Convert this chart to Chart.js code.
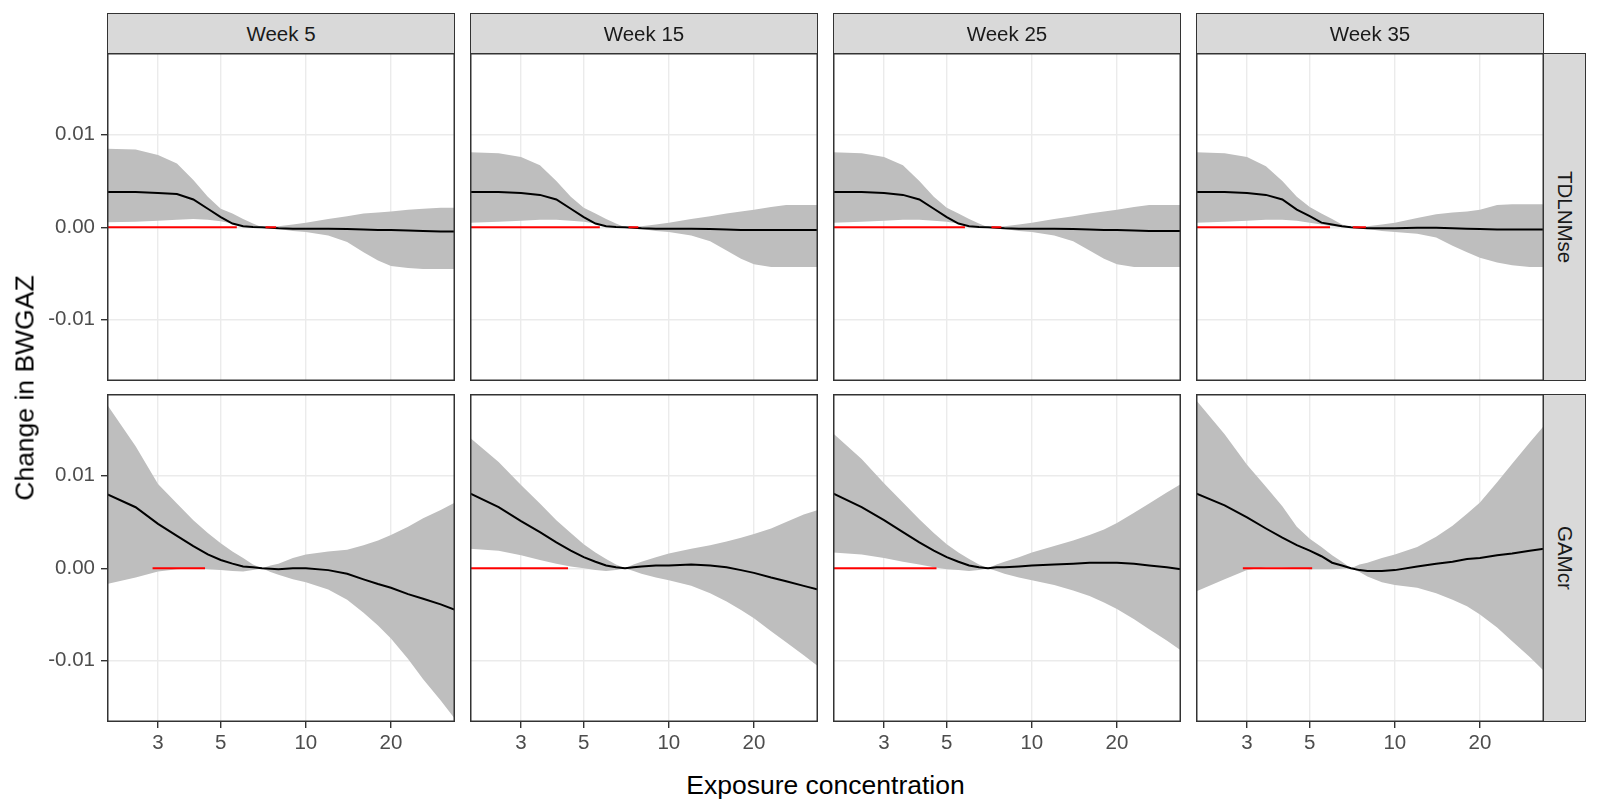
<!DOCTYPE html>
<html>
<head>
<meta charset="utf-8">
<script src="https://cdn.jsdelivr.net/npm/chart.js@4.4.0/dist/chart.umd.min.js"></script>
<style>
  body { margin: 0; background: #fff; }
  #wrap { position: relative; width: 1600px; height: 800px; font-family: "Liberation Sans", Arial, sans-serif; }
  canvas { position: absolute; }
  .strip { position: absolute; box-sizing: border-box; background: #D9D9D9; border: 1.5px solid #333333;
           color: #1A1A1A; font-size: 20.5px; display: flex; align-items: center; justify-content: center; }
  .vstrip { writing-mode: vertical-rl; }
  .title { position: absolute; color: #000; font-size: 26.5px; white-space: nowrap; }
</style>
</head>
<body>
<div id="wrap"></div>
<script>
// exposure grid shared by all panels
const xs = [1.98, 2.5, 3, 3.5, 4, 4.5, 5, 5.5, 6, 6.5, 7, 7.5, 8, 9, 10, 12, 14, 16, 18, 20, 23, 26, 30, 33.7];

const weeks = ['Week 5', 'Week 15', 'Week 25', 'Week 35'];
const models = ['TDLNMse', 'GAMcr'];

const xMajor = [3, 5, 10, 20];
const xMinor = [2.32, 3.87, 7.07, 14.14, 25.8, 33.3];
const yMajor = [-0.01, 0, 0.01];
const yMajorLabels = ['-0.01', '0.00', '0.01'];
const yMinor = [-0.015, -0.005, 0.005, 0.015];

// TDLNMse
const w5_tdlnm_mid = [0.0038, 0.0038, 0.0037, 0.0036, 0.003, 0.002, 0.0011, 0.0004, 0.0001, 0.00002, 0, -0.00005, -0.0001, -0.00015, -0.00015, -0.00015, -0.0002, -0.00025, -0.0003, -0.0003, -0.00035, -0.0004, -0.00045, -0.00045];
const w5_tdlnm_lo = [0.00055, 0.0006, 0.0007, 0.0008, 0.0009, 0.0008, 0.00065, 0.0004, 0.00015, 0.00003, 0, -0.0001, -0.0002, -0.0004, -0.0005, -0.0009, -0.0016, -0.0027, -0.0036, -0.0042, -0.0044, -0.0045, -0.0045, -0.0045];
const w5_tdlnm_hi = [0.0085, 0.0084, 0.0078, 0.0069, 0.0051, 0.0033, 0.002, 0.0015, 0.0009, 0.0004, 0, 0.00005, 0.0001, 0.0003, 0.0005, 0.0009, 0.0012, 0.0015, 0.0016, 0.0017, 0.0019, 0.002, 0.0021, 0.0021];

const w15_tdlnm_mid = [0.0038, 0.0038, 0.0037, 0.0035, 0.003, 0.002, 0.0011, 0.0004, 0.0001, 0.00002, 0, -0.00005, -0.0001, -0.00015, -0.00015, -0.00015, -0.0002, -0.00025, -0.0003, -0.0003, -0.0003, -0.0003, -0.0003, -0.0003];
const w15_tdlnm_lo = [0.0005, 0.0006, 0.0007, 0.0008, 0.0008, 0.0007, 0.0006, 0.0004, 0.00015, 0.00003, 0, -0.0001, -0.0002, -0.0004, -0.0005, -0.0009, -0.0015, -0.0025, -0.0034, -0.004, -0.0043, -0.0043, -0.0043, -0.0043];
const w15_tdlnm_hi = [0.0081, 0.008, 0.0076, 0.0067, 0.005, 0.0033, 0.0021, 0.0015, 0.0009, 0.0004, 0, 0.00005, 0.0001, 0.0003, 0.0005, 0.0009, 0.0012, 0.0015, 0.0017, 0.0019, 0.0022, 0.0024, 0.0024, 0.0024];

const w25_tdlnm_mid = [0.0038, 0.0038, 0.0037, 0.0035, 0.003, 0.002, 0.0011, 0.0004, 0.0001, 0.00002, 0, -0.00005, -0.0001, -0.00015, -0.00015, -0.00015, -0.0002, -0.00025, -0.0003, -0.0003, -0.00035, -0.0004, -0.0004, -0.0004];
const w25_tdlnm_lo = [0.0005, 0.0006, 0.0007, 0.0008, 0.0008, 0.0007, 0.0006, 0.0004, 0.00015, 0.00003, 0, -0.0001, -0.0002, -0.0004, -0.0005, -0.0009, -0.0015, -0.0025, -0.0034, -0.004, -0.0043, -0.0043, -0.0043, -0.0043];
const w25_tdlnm_hi = [0.0081, 0.008, 0.0076, 0.0067, 0.005, 0.0033, 0.0021, 0.0015, 0.0009, 0.0004, 0, 0.00005, 0.0001, 0.0003, 0.0005, 0.0009, 0.0012, 0.0015, 0.0017, 0.0019, 0.0022, 0.0024, 0.0024, 0.0024];

const w35_tdlnm_mid = [0.0038, 0.0038, 0.0037, 0.0035, 0.003, 0.0019, 0.0012, 0.0005, 0.0003, 0.0001, 0, -0.00005, -0.0001, -0.0001, -0.0001, -0.00005, -0.00005, -0.0001, -0.00015, -0.0002, -0.00025, -0.00025, -0.00025, -0.00025];
const w35_tdlnm_lo = [0.0005, 0.0006, 0.0007, 0.0008, 0.0008, 0.0007, 0.0005, 0.0003, 0.0001, 0.00002, 0, -0.0001, -0.0002, -0.0004, -0.0005, -0.0007, -0.0011, -0.002, -0.0027, -0.0033, -0.0038, -0.0041, -0.0043, -0.0043];
const w35_tdlnm_hi = [0.0081, 0.008, 0.0076, 0.0066, 0.005, 0.0033, 0.0022, 0.0015, 0.0009, 0.0003, 0, 0, 0.0001, 0.0003, 0.0005, 0.001, 0.0014, 0.0016, 0.0017, 0.0019, 0.0024, 0.0025, 0.0025, 0.0025];

// GAMcr
const w5_gam_mid = [0.008, 0.0066, 0.0048, 0.0035, 0.0024, 0.0015, 0.0009, 0.0005, 0.0002, 0.0001, 0, -0.00005, -0.0001, 0, 0, -0.0002, -0.0006, -0.0012, -0.0017, -0.0021, -0.0028, -0.0033, -0.0039, -0.0045];
const w5_gam_lo = [-0.0017, -0.001, -0.00035, -0.0001, 0, -0.0001, -0.0002, -0.0003, -0.00035, -0.0002, 0, -0.0004, -0.0007, -0.0012, -0.0015, -0.0023, -0.0034, -0.0048, -0.0062, -0.0076, -0.0098, -0.012, -0.0143, -0.0163];
const w5_gam_hi = [0.0177, 0.0132, 0.0091, 0.007, 0.0052, 0.0038, 0.0027, 0.0018, 0.0011, 0.0004, 0, 0.0003, 0.0005, 0.0011, 0.0015, 0.0018, 0.002, 0.0025, 0.003, 0.0036, 0.0045, 0.0054, 0.0063, 0.0071];

const w15_gam_mid = [0.0081, 0.0066, 0.0051, 0.0039, 0.0028, 0.0019, 0.0012, 0.0007, 0.0003, 0.0001, 0, 0.0001, 0.0002, 0.0003, 0.0003, 0.0004, 0.0003, 0.0001, -0.0002, -0.0005, -0.001, -0.0014, -0.0019, -0.0023];
const w15_gam_lo = [0.0021, 0.0019, 0.0014, 0.0009, 0.0005, 0.0002, 0, -0.0002, -0.0003, -0.0002, 0, -0.0003, -0.0006, -0.001, -0.0013, -0.0019, -0.0027, -0.0036, -0.0045, -0.0054, -0.0068, -0.008, -0.0094, -0.0106];
const w15_gam_hi = [0.0141, 0.0115, 0.009, 0.007, 0.0052, 0.0038, 0.0026, 0.0017, 0.001, 0.0004, 0, 0.0004, 0.0007, 0.0012, 0.0016, 0.0021, 0.0025, 0.0029, 0.0033, 0.0037, 0.0043, 0.005, 0.0058, 0.0063];

const w25_gam_mid = [0.0081, 0.0066, 0.0052, 0.0039, 0.0028, 0.0019, 0.0012, 0.0007, 0.0003, 0.0001, 0, 0.0001, 0.0001, 0.0002, 0.0003, 0.0004, 0.0005, 0.0006, 0.0006, 0.0006, 0.0005, 0.0003, 0.0001, -0.0001];
const w25_gam_lo = [0.0017, 0.0015, 0.0011, 0.0007, 0.0004, 0.0001, -0.0001, -0.0002, -0.0003, -0.0002, 0, -0.0003, -0.0006, -0.001, -0.0013, -0.0018, -0.0024, -0.003, -0.0037, -0.0044, -0.0055, -0.0066, -0.0078, -0.0089];
const w25_gam_hi = [0.0146, 0.0118, 0.0092, 0.0071, 0.0053, 0.0038, 0.0026, 0.0017, 0.001, 0.0004, 0, 0.0004, 0.0007, 0.0012, 0.0017, 0.0024, 0.003, 0.0036, 0.0042, 0.0049, 0.006, 0.007, 0.0082, 0.0091];

const w35_gam_mid = [0.0081, 0.0068, 0.0055, 0.0043, 0.0033, 0.0025, 0.0019, 0.0013, 0.0006, 0.0003, 0, -0.0002, -0.0003, -0.0003, -0.0002, 0.0002, 0.0005, 0.0007, 0.001, 0.0011, 0.0014, 0.0016, 0.0019, 0.0021];
const w35_gam_lo = [-0.0025, -0.0012, -0.0002, 0.0001, 0.0001, 0, -0.0001, -0.0001, -0.0001, -0.00005, 0, -0.0004, -0.0009, -0.0015, -0.0018, -0.0021, -0.0027, -0.0034, -0.0041, -0.005, -0.0064, -0.0079, -0.0096, -0.0111];
const w35_gam_hi = [0.0182, 0.0145, 0.0112, 0.0088, 0.0067, 0.0045, 0.0032, 0.0023, 0.0014, 0.0007, 0, 0.0004, 0.0006, 0.0011, 0.0015, 0.0023, 0.0034, 0.0046, 0.0059, 0.0071, 0.0093, 0.0113, 0.0136, 0.0154];

// red reference segments at zero, [from, to]
const w5_tdlnm_red = [[1.98, 5.7], [7.2, 7.85]];
const w15_tdlnm_red = [[1.98, 5.7], [7.2, 7.8]];
const w25_tdlnm_red = [[1.98, 5.8], [7.2, 7.8]];
const w35_tdlnm_red = [[1.98, 5.9], [7.1, 7.9]];
const w5_gam_red = [[2.87, 4.4]];
const w15_gam_red = [[1.98, 4.4]];
const w25_gam_red = [[1.98, 4.6]];
const w35_gam_red = [[2.9, 5.1]];

const panels = [
  [
    {mid: w5_tdlnm_mid, lo: w5_tdlnm_lo, hi: w5_tdlnm_hi, red: w5_tdlnm_red},
    {mid: w15_tdlnm_mid, lo: w15_tdlnm_lo, hi: w15_tdlnm_hi, red: w15_tdlnm_red},
    {mid: w25_tdlnm_mid, lo: w25_tdlnm_lo, hi: w25_tdlnm_hi, red: w25_tdlnm_red},
    {mid: w35_tdlnm_mid, lo: w35_tdlnm_lo, hi: w35_tdlnm_hi, red: w35_tdlnm_red}
  ],
  [
    {mid: w5_gam_mid, lo: w5_gam_lo, hi: w5_gam_hi, red: w5_gam_red},
    {mid: w15_gam_mid, lo: w15_gam_lo, hi: w15_gam_hi, red: w15_gam_red},
    {mid: w25_gam_mid, lo: w25_gam_lo, hi: w25_gam_hi, red: w25_gam_red},
    {mid: w35_gam_mid, lo: w35_gam_lo, hi: w35_gam_hi, red: w35_gam_red}
  ]
];

// layout (px)
const panelLeft = [107, 470, 833, 1196];
const panelW = 348;
const panelTop = [53, 394];
const panelH = 328;
const stripTop = 13;
const yAxisLeft = 40;
const xAxisH = 45;
const font = '"Liberation Sans", Arial, sans-serif';

const wrap = document.getElementById('wrap');

const borderPlugin = {
  id: 'panelBorder',
  afterDraw(chart) {
    const a = chart.chartArea;
    const c = chart.ctx;
    c.save();
    c.strokeStyle = '#333333';
    c.lineWidth = 1.5;
    c.strokeRect(a.left + 0.75, a.top + 0.75, a.right - a.left - 1.5, a.bottom - a.top - 1.5);
    c.restore();
  }
};

function isIn(list, v) {
  return list.some(m => Math.abs(m - v) < 1e-9);
}

function noPad(s) {
  s.paddingTop = 0;
  s.paddingBottom = 0;
  s.paddingLeft = 0;
  s.paddingRight = 0;
}

function makePanel(row, col) {
  const p = panels[row][col];
  const left = col === 0 ? yAxisLeft : panelLeft[col];
  const w = panelLeft[col] + panelW - left;
  const h = panelH + (row === 1 ? xAxisH : 0);

  const cv = document.createElement('canvas');
  cv.width = w;
  cv.height = h;
  cv.style.left = left + 'px';
  cv.style.top = panelTop[row] + 'px';
  cv.style.width = w + 'px';
  cv.style.height = h + 'px';
  wrap.appendChild(cv);

  const pts = arr => xs.map((x, i) => ({x: x, y: arr[i]}));
  const redPts = [];
  p.red.forEach(s => {
    redPts.push({x: s[0], y: 0}, {x: s[1], y: 0}, {x: s[1], y: null});
  });

  new Chart(cv, {
    type: 'line',
    data: {
      datasets: [
        {data: redPts, borderColor: '#FF0000', borderWidth: 2, pointRadius: 0, spanGaps: false},
        {data: pts(p.mid), borderColor: '#000000', borderWidth: 2, pointRadius: 0},
        {data: pts(p.lo), borderColor: 'rgba(0,0,0,0)', borderWidth: 0, pointRadius: 0},
        {data: pts(p.hi), borderColor: 'rgba(0,0,0,0)', borderWidth: 0, pointRadius: 0,
         backgroundColor: '#BEBEBE', fill: '-1'}
      ]
    },
    options: {
      responsive: false,
      animation: false,
      events: [],
      layout: {padding: 0},
      plugins: {legend: {display: false}, tooltip: {enabled: false}},
      scales: {
        x: {
          type: 'logarithmic',
          min: 1.98,
          max: 33.7,
          afterBuildTicks: s => { s.ticks = xMajor.concat(xMinor).sort((a, b) => a - b).map(v => ({value: v})); },
          afterFit: s => { s.height = row === 1 ? xAxisH : 0; noPad(s); },
          ticks: {
            display: row === 1,
            autoSkip: false,
            maxRotation: 0,
            minRotation: 0,
            padding: 3,
            color: '#4D4D4D',
            font: {family: font, size: 20.5},
            callback: v => isIn(xMajor, v) ? String(v) : null
          },
          grid: {
            color: '#EBEBEB',
            lineWidth: ctx => isIn(xMajor, ctx.tick.value) ? 1.4 : 0.8,
            drawTicks: row === 1,
            tickLength: 6,
            tickWidth: 1.4,
            tickColor: ctx => isIn(xMajor, ctx.tick.value) ? '#333333' : 'rgba(0,0,0,0)'
          },
          border: {display: false}
        },
        y: {
          min: -0.01662,
          max: 0.01884,
          afterBuildTicks: s => { s.ticks = yMajor.concat(yMinor).sort((a, b) => a - b).map(v => ({value: v})); },
          afterFit: s => { s.width = col === 0 ? panelLeft[0] - yAxisLeft : 0; noPad(s); },
          ticks: {
            display: col === 0,
            padding: 6,
            color: '#4D4D4D',
            font: {family: font, size: 20.5},
            callback: v => {
              const i = yMajor.findIndex(m => Math.abs(m - v) < 1e-9);
              return i >= 0 ? yMajorLabels[i] : null;
            }
          },
          grid: {
            color: '#EBEBEB',
            lineWidth: ctx => isIn(yMajor, ctx.tick.value) ? 1.4 : 0.8,
            drawTicks: col === 0,
            tickLength: 6,
            tickWidth: 1.4,
            tickColor: ctx => isIn(yMajor, ctx.tick.value) ? '#333333' : 'rgba(0,0,0,0)'
          },
          border: {display: false}
        }
      }
    },
    plugins: [borderPlugin]
  });
}

for (let r = 0; r < 2; r++) {
  for (let c = 0; c < 4; c++) makePanel(r, c);
}

// strips
weeks.forEach((wk, c) => {
  const d = document.createElement('div');
  d.className = 'strip';
  d.style.left = panelLeft[c] + 'px';
  d.style.top = stripTop + 'px';
  d.style.width = panelW + 'px';
  d.style.height = (panelTop[0] - stripTop + 1) + 'px';
  d.textContent = wk;
  wrap.appendChild(d);
});
models.forEach((m, r) => {
  const d = document.createElement('div');
  d.className = 'strip vstrip';
  d.style.left = (panelLeft[3] + panelW - 1) + 'px';
  d.style.top = panelTop[r] + 'px';
  d.style.width = '43px';
  d.style.height = panelH + 'px';
  d.textContent = m;
  wrap.appendChild(d);
});

// axis titles
const xt = document.createElement('div');
xt.className = 'title';
xt.textContent = 'Exposure concentration';
xt.style.left = ((panelLeft[0] + panelLeft[3] + panelW) / 2) + 'px';
xt.style.top = '785px';
xt.style.transform = 'translate(-50%, -50%)';
wrap.appendChild(xt);

const yt = document.createElement('div');
yt.className = 'title';
yt.textContent = 'Change in BWGAZ';
yt.style.left = '25px';
yt.style.top = ((panelTop[0] + panelTop[1] + panelH) / 2) + 'px';
yt.style.transform = 'translate(-50%, -50%) rotate(-90deg)';
wrap.appendChild(yt);
</script>
</body>
</html>
